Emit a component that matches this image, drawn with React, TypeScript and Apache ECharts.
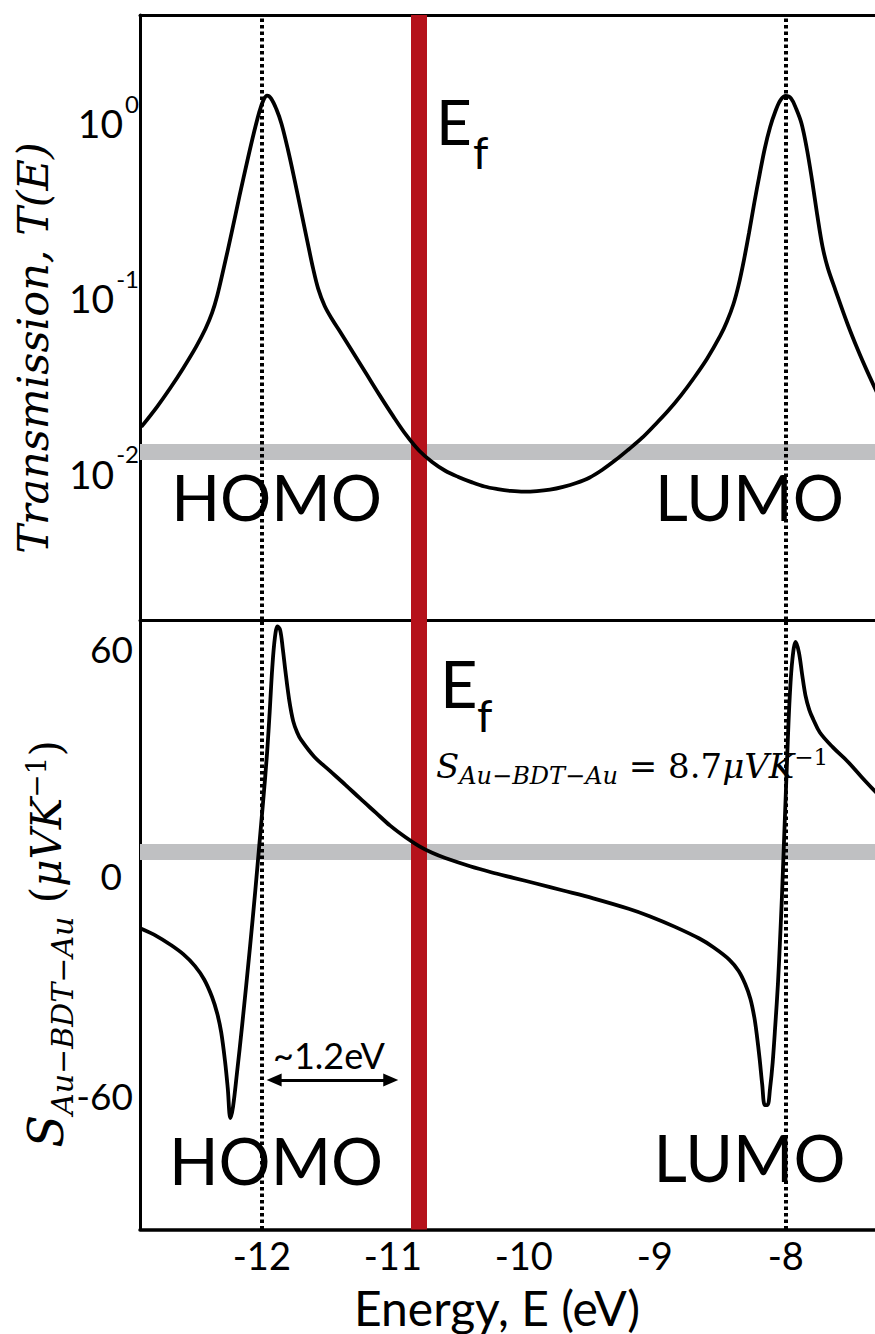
import React, { useEffect, useRef } from "react";
import * as echarts from "echarts";

// ---- data ----
const xTicks = [-12, -11, -10, -9, -8];
const tTickExponents = [-2, -1, 0];
const sTicks = [-60, 0, 60];

const energyT = [-12.92, -12.8, -12.7, -12.6, -12.5, -12.43, -12.38, -12.34, -12.29, -12.23, -12.17, -12.11, -12.06, -12.02, -11.99, -11.96, -11.93, -11.89, -11.85, -11.8, -11.75, -11.7, -11.65, -11.61, -11.57, -11.52, -11.46, -11.4, -11.3, -11.2, -11.1, -11.0, -10.9, -10.8, -10.7, -10.6, -10.5, -10.4, -10.3, -10.2, -10.1, -10.0, -9.9, -9.8, -9.7, -9.6, -9.5, -9.4, -9.3, -9.2, -9.1, -9.0, -8.9, -8.8, -8.7, -8.6, -8.5, -8.45, -8.4, -8.36, -8.32, -8.28, -8.24, -8.2, -8.16, -8.12, -8.08, -8.04, -8.0, -7.96, -7.92, -7.88, -7.84, -7.8, -7.76, -7.72, -7.68, -7.62, -7.53, -7.45, -7.38, -7.3];
const transmission = [0.0195, 0.0254, 0.0324, 0.0422, 0.0562, 0.0708, 0.0871, 0.1096, 0.158, 0.251, 0.407, 0.646, 0.933, 1.216, 1.413, 1.514, 1.462, 1.274, 1.047, 0.741, 0.501, 0.331, 0.219, 0.158, 0.12, 0.0955, 0.0794, 0.0676, 0.0513, 0.0389, 0.0295, 0.0226, 0.0176, 0.0143, 0.0123, 0.01096, 0.0101, 0.00944, 0.00891, 0.00861, 0.00841, 0.00832, 0.00838, 0.00855, 0.00887, 0.00933, 0.01, 0.0111, 0.0126, 0.0145, 0.0168, 0.02, 0.024, 0.0295, 0.0372, 0.0479, 0.0646, 0.0776, 0.0977, 0.126, 0.174, 0.251, 0.372, 0.537, 0.759, 1.0, 1.23, 1.43, 1.51, 1.46, 1.27, 1.05, 0.759, 0.501, 0.316, 0.209, 0.158, 0.117, 0.0759, 0.0537, 0.0407, 0.0302];

const energyS = [-12.92, -12.8, -12.7, -12.6, -12.51, -12.44, -12.38, -12.34, -12.31, -12.28, -12.26, -12.24, -12.22, -12.19, -12.15, -12.09, -12.05, -12.02, -11.99, -11.96, -11.94, -11.92, -11.9, -11.88, -11.86, -11.84, -11.82, -11.79, -11.76, -11.73, -11.7, -11.6, -11.48, -11.36, -11.25, -11.13, -11.02, -10.9, -10.8, -10.7, -10.6, -10.41, -10.25, -10.08, -9.9, -9.7, -9.47, -9.2, -9.04, -8.85, -8.66, -8.55, -8.43, -8.36, -8.31, -8.27, -8.24, -8.22, -8.2, -8.18, -8.16, -8.14, -8.12, -8.1, -8.08, -8.06, -8.045, -8.03, -8.015, -8.0, -7.985, -7.97, -7.95, -7.925, -7.9, -7.875, -7.85, -7.82, -7.79, -7.74, -7.64, -7.53, -7.42, -7.3];
const seebeck = [-14.2, -16.2, -18.4, -21, -24.2, -27.8, -32.5, -37, -42, -50, -57, -65, -62, -53, -40, -19, -4, 8, 20, 33, 44, 56, 64, 67, 66, 61, 55, 47, 41.5, 38.5, 36.5, 32, 28.2, 24.4, 20.8, 17, 13.5, 10.3, 8.0, 6.2, 4.8, 2.6, 1.0, -0.5, -2.1, -3.9, -6.0, -8.8, -10.8, -13.6, -16.8, -19.2, -22.5, -25.5, -29, -33, -38, -43, -49, -56, -61.5, -61.5, -57, -50, -40, -29, -18, -6, 8, 22, 36, 48, 58, 62.8, 60, 54, 48.5, 44.5, 42, 38.5, 34.5, 30.8, 26.5, 22];

const fermiEnergy = -10.8;
const homoEnergy = -12;
const lumoEnergy = -8;
const transmissionAtFermi = 0.014;
const seebeckAtFermi = 6.6;
const gapArrowEnergies = [-11.906, -11.016];
const gapArrowS = -54.8;

// ---- axis extents (layout) ----
const X_MIN = -12.93;
const X_MAX = -7.319;
const T_LOG_MIN = -2.812;
const T_LOG_MAX = 0.6405;
const S_MIN = -94.9;
const S_MAX = 68.7;

const RED = "#b5121b";
const GRAY = "#bfc0c2";
const SANS = "Lato, 'Open Sans', sans-serif";
const SERIF = "'DejaVu Serif', serif";

function txt(text: string, x: number, y: number, fontSize: number, align = "center", extra: any = {}) {
  return {
    type: "text",
    x,
    y,
    z: 0,
    silent: true,
    style: {
      text,
      fontSize,
      fontFamily: SANS,
      fill: "#000",
      align,
      verticalAlign: "middle",
      textAlign: align,
      textVerticalAlign: "middle",
      ...extra,
    },
  };
}

export default function App() {
  const ref = useRef<HTMLDivElement>(null);

  useEffect(() => {
    if (!ref.current) return;
    const chart = echarts.init(ref.current, undefined, { renderer: "svg" });

    const tData = energyT.map((e, i) => [e, Math.log10(transmission[i])]);
    const sData = energyS.map((e, i) => [e, seebeck[i]]);

    const lineStyleBlack = { color: "#000", width: 3.8 };
    const dotted = { color: "#000", width: 4, type: [3.5, 3] };
    const baseMarkLine = {
      silent: true,
      z: 1,
      symbol: ["none", "none"],
      label: { show: false },
      emphasis: { disabled: true },
      animation: false,
    };

    const axisLineBlack = (w: number) => ({ show: true, onZero: false, lineStyle: { color: "#000", width: w } });

    const option: any = {
      animation: false,
      backgroundColor: "#fff",
      grid: [
        { left: 140, top: 15, right: 0, height: 605 },
        { left: 140, top: 620, right: 0, height: 609.5 },
      ],
      xAxis: [
        {
          gridIndex: 0, type: "value", min: X_MIN, max: X_MAX, position: "bottom",
          axisLine: axisLineBlack(3), axisTick: { show: false }, axisLabel: { show: false }, splitLine: { show: false },
        },
        {
          gridIndex: 0, type: "value", min: X_MIN, max: X_MAX, position: "top",
          axisLine: axisLineBlack(3), axisTick: { show: false }, axisLabel: { show: false }, splitLine: { show: false },
        },
        {
          gridIndex: 1, type: "value", min: X_MIN, max: X_MAX, position: "bottom",
          axisLine: axisLineBlack(3.5), axisTick: { show: false }, splitLine: { show: false },
          axisLabel: {
            customValues: xTicks, fontSize: 38, fontFamily: SANS, color: "#000", margin: 6,
            formatter: (v: number) => String(v),
          },
        },
      ],
      yAxis: [
        {
          gridIndex: 0, type: "value", min: T_LOG_MIN, max: T_LOG_MAX,
          axisLine: axisLineBlack(3), axisTick: { show: false }, splitLine: { show: false },
          axisLabel: {
            customValues: tTickExponents, margin: 1,
            formatter: (v: number) => `{b|10}{s|${Math.round(v)}}`,
            rich: {
              b: { fontSize: 39, fontFamily: SANS, color: "#000", padding: [0, 0, 8, 0] },
              s: { fontSize: 24, fontFamily: SANS, color: "#000", padding: [0, 0, 48, 2] },
            },
          },
        },
        {
          gridIndex: 1, type: "value", min: S_MIN, max: S_MAX,
          axisLine: axisLineBlack(3), axisTick: { show: false }, splitLine: { show: false },
          axisLabel: {
            customValues: sTicks, margin: 7,
            formatter: (v: number) => (v === 0 ? `{z|0}` : `{n|${v}}`),
            rich: {
              n: { fontSize: 37, fontFamily: SANS, color: "#000", padding: [0, 0, 8, 0] },
              z: { fontSize: 37, fontFamily: SANS, color: "#000", padding: [0, 11, 0, 0] },
            },
          },
        },
      ],
      series: [
        {
          type: "line", xAxisIndex: 0, yAxisIndex: 0, data: tData, z: 3,
          showSymbol: false, smooth: 0.35, lineStyle: lineStyleBlack, silent: true,
          markLine: {
            ...baseMarkLine,
            data: [
              { yAxis: Math.log10(transmissionAtFermi), lineStyle: { color: GRAY, width: 16, type: "solid" } },
              { xAxis: fermiEnergy, lineStyle: { color: RED, width: 16, type: "solid" } },
              { xAxis: homoEnergy, lineStyle: dotted },
              { xAxis: lumoEnergy, lineStyle: dotted },
            ],
          },
        },
        {
          type: "line", xAxisIndex: 2, yAxisIndex: 1, data: sData, z: 3,
          showSymbol: false, smooth: 0.35, lineStyle: lineStyleBlack, silent: true,
          markLine: {
            ...baseMarkLine,
            data: [
              { yAxis: seebeckAtFermi, lineStyle: { color: GRAY, width: 16, type: "solid" } },
              { xAxis: fermiEnergy, lineStyle: { color: RED, width: 16, type: "solid" } },
              { xAxis: homoEnergy, lineStyle: dotted },
              { xAxis: lumoEnergy, lineStyle: dotted },
              [
                {
                  coord: [gapArrowEnergies[0], gapArrowS], symbol: "triangle", symbolSize: [13, 15],
                  lineStyle: { color: "#000", width: 3, type: "solid" },
                  itemStyle: { color: "#000" },
                },
                {
                  coord: [gapArrowEnergies[1], gapArrowS], symbol: "triangle", symbolSize: [13, 15],
                  itemStyle: { color: "#000" },
                },
              ],
            ],
          },
        },
      ],
      graphic: {
        elements: [
          // y-axis titles
          {
            type: "text", x: 33, y: 348, rotation: Math.PI / 2, z: 0, silent: true,
            style: {
              text: "Transmission, T(E)", fontSize: 43, fontFamily: SERIF, fontStyle: "italic", fill: "#000",
              align: "center", verticalAlign: "middle", textAlign: "center", textVerticalAlign: "middle",
            },
          },
          {
            type: "text", x: 46, y: 944, rotation: Math.PI / 2, z: 0, silent: true,
            style: {
              text: "{S|S}{sub|Au\u2212BDT\u2212Au}{p| (}{i|\u03bcVK}{sup|\u22121}{p|)}",
              fill: "#000", align: "center", verticalAlign: "middle", textAlign: "center", textVerticalAlign: "middle",
              rich: {
                S: { fontSize: 48, fontFamily: SERIF, fontStyle: "italic", fill: "#000" },
                sub: { fontSize: 30, fontFamily: SERIF, fontStyle: "italic", fill: "#000", padding: [32, 0, 0, 0] },
                p: { fontSize: 42, fontFamily: SERIF, fill: "#000" },
                i: { fontSize: 42, fontFamily: SERIF, fontStyle: "italic", fill: "#000" },
                sup: { fontSize: 28, fontFamily: SERIF, fill: "#000", padding: [0, 0, 20, 0] },
              },
            },
          },
          // x-axis title
          txt("Energy, E (eV)", 497, 1307, 48),
          // top panel annotations
          txt("E", 436, 120.5, 62, "left"),
          txt("f", 473, 151.5, 44, "left"),
          txt("HOMO", 276.5, 496, 64),
          txt("LUMO", 749.5, 496, 64),
          // bottom panel annotations
          txt("E", 440, 682.5, 65, "left"),
          txt("f", 477, 715, 44, "left"),
          {
            type: "text", x: 436, y: 766, z: 0, silent: true,
            style: {
              text: "{S|S}{sub|Au\u2212BDT\u2212Au}{m| = 8.7}{i|\u03bcVK}{sup|\u22121}",
              fill: "#000", align: "left", verticalAlign: "middle", textAlign: "left", textVerticalAlign: "middle",
              rich: {
                S: { fontSize: 34, fontFamily: SERIF, fontStyle: "italic", fill: "#000" },
                sub: { fontSize: 24, fontFamily: SERIF, fontStyle: "italic", fill: "#000", padding: [20, 0, 0, 0] },
                m: { fontSize: 34, fontFamily: SERIF, fill: "#000" },
                i: { fontSize: 34, fontFamily: SERIF, fontStyle: "italic", fill: "#000" },
                sup: { fontSize: 23, fontFamily: SERIF, fill: "#000", padding: [0, 0, 18, 0] },
              },
            },
          },
          txt("~1.2eV", 329, 1055, 36),
          txt("HOMO", 276, 1159.5, 65),
          txt("LUMO", 749.5, 1157, 65),
        ],
      },
    };

    chart.setOption(option);
    return () => chart.dispose();
  }, []);

  return (
    <div
      ref={ref}
      style={{ position: "absolute", left: 0, top: 0, width: 875, height: 1334, background: "#fff" }}
    />
  );
}
